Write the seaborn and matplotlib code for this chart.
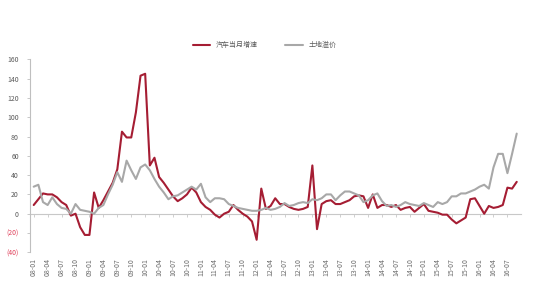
import numpy as np
import pandas as pd
import matplotlib
matplotlib.use("Agg")
import matplotlib.pyplot as plt
import seaborn as sns

series_names = ["汽车当月增速", "土地溢价"]

car_growth = [9, 15, 21, 20, 20, 17, 12, 9, -2, 0,
              -14, -22, -22, 22, 6, 14, 23, 32, 46, 85,
              79, 79, 105, 143, 145, 50, 58, 38, 32, 25,
              18, 13, 16, 20, 27, 22, 12, 7, 4, -1,
              -4, 0, 2, 9, 4, 0, -3, -8, -27, 26,
              5, 8, 16, 10, 10, 7, 5, 4, 5, 7,
              50, -16, 10, 13, 14, 10, 10, 12, 14, 18,
              19, 18, 6, 20, 6, 9, 9, 7, 9, 4,
              6, 7, 2, 6, 10, 3, 2, 1, -1, -1,
              -6, -10, -7, -4, 15, 16, 8, 0, 8, 6,
              7, 9, 27, 26, 33]

land_premium = [28, 30, 12, 9, 17, 10, 6, 5, 0, 10,
                4, 3, 2, 0, 6, 9, 20, 30, 43, 33,
                55, 45, 36, 48, 51, 45, 36, 28, 22, 15,
                18, 19, 22, 25, 28, 25, 31, 17, 12, 16,
                16, 15, 10, 8, 6, 5, 4, 3, 3, 4,
                6, 4, 5, 7, 11, 8, 9, 11, 12, 11,
                15, 14, 16, 20, 20, 14, 19, 23, 23, 21,
                19, 12, 14, 19, 21, 13, 8, 9, 7, 9,
                12, 10, 9, 8, 11, 9, 7, 12, 10, 12,
                18, 18, 21, 21, 23, 25, 28, 30, 26, 48,
                62, 62, 42, 62, 83]

x_tick_labels = ["08-01", "08-04", "08-07", "08-10", "09-01", "09-04", "09-07", "09-10",
                 "10-01", "10-04", "10-07", "10-10", "11-01", "11-04", "11-07", "11-10",
                 "12-01", "12-04", "12-07", "12-10", "13-01", "13-04", "13-07", "13-10",
                 "14-01", "14-04", "14-07", "14-10", "15-01", "15-04", "15-07", "15-10",
                 "16-01", "16-04", "16-07"]

y_tick_values = [-40, -20, 0, 20, 40, 60, 80, 100, 120, 140, 160]
y_tick_labels = ["(40)", "(20)", "0", "20", "40", "60", "80", "100", "120", "140", "160"]

sns.set_theme(style="white")
plt.rcParams['font.family'] = ['Noto Sans CJK SC', 'DejaVu Sans']

n = len(car_growth)
df = pd.DataFrame({
    "idx": list(range(n)) * 2,
    "value": car_growth + land_premium,
    "series": [series_names[0]] * n + [series_names[1]] * n,
})

red = "#A51D33"
gray = "#A8A8A8"

fig = plt.figure(figsize=(5.53, 3.02), dpi=100)
ax = fig.add_axes([30 / 553, 1 - 252.3 / 302, (520.9 - 30) / 553, (252.3 - 59.3) / 302])

sns.lineplot(data=df, x="idx", y="value", hue="series", palette=[red, gray],
             hue_order=series_names, ax=ax, linewidth=1.5, legend=False)

ax.set_xlim(-0.8, 104.9)
ax.set_ylim(-40, 160)
ax.set_xlabel("")
ax.set_ylabel("")

for s in ["top", "right"]:
    ax.spines[s].set_visible(False)
ax.spines["left"].set_color("#BFBFBF")
ax.spines["left"].set_linewidth(0.8)
ax.spines["bottom"].set_position(("data", 0))
ax.spines["bottom"].set_color("#C8C8C8")
ax.spines["bottom"].set_linewidth(0.8)
ax.spines["bottom"].set_zorder(0)

ax.set_yticks(y_tick_values)
ax.set_yticklabels(y_tick_labels)
for lbl, v in zip(ax.get_yticklabels(), y_tick_values):
    lbl.set_color("#E0405A" if v < 0 else "#595959")
ax.tick_params(axis="y", which="both", left=True, length=2, width=0.6,
               color="#BFBFBF", labelsize=5, pad=6)

ax.set_xticks(list(range(0, 3 * len(x_tick_labels), 3)))
ax.set_xticklabels(x_tick_labels, rotation=90, va="top", ha="center")
ax.tick_params(axis="x", which="both", bottom=True, length=2, width=0.6,
               color="#C8C8C8", labelsize=5, pad=30, labelcolor="#6A6A6A")

handles = [plt.Line2D([], [], color=red, linewidth=1.5),
           plt.Line2D([], [], color=gray, linewidth=1.5)]
fig.legend(handles, series_names, loc="center", bbox_to_anchor=(0.478, 1 - 45 / 302),
           ncol=2, frameon=False, fontsize=5, handlelength=2.5, columnspacing=4,
           labelcolor="#595959")

fig.savefig("out.png", dpi=100, facecolor="white")
